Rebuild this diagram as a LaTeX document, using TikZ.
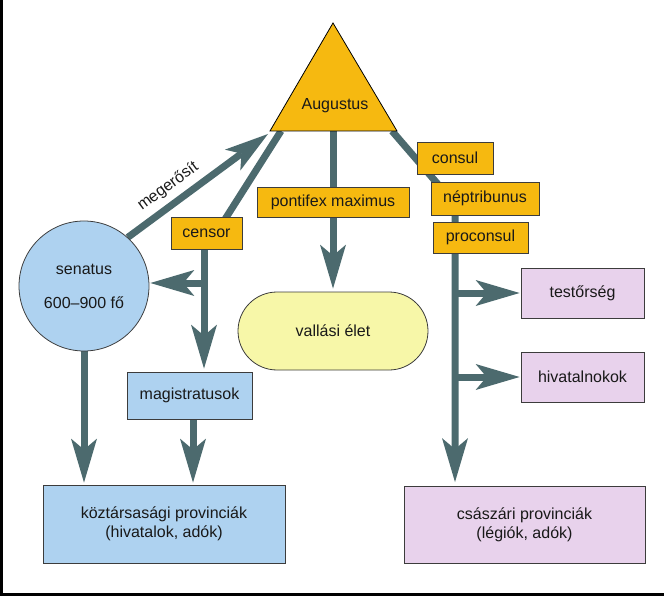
\documentclass[tikz,border=0pt]{standalone}
\usepackage{fontspec}
\setmainfont{Liberation Sans}
\usetikzlibrary{arrows.meta,backgrounds,shapes.misc}
\definecolor{orng}{RGB}{246,185,16}
\definecolor{conn}{RGB}{76,106,110}
\definecolor{lblue}{RGB}{174,210,240}
\definecolor{lpurp}{RGB}{232,210,236}
\definecolor{lyel}{RGB}{247,247,168}
\definecolor{edgec}{RGB}{60,60,60}
\begin{document}
\begin{tikzpicture}[x=1pt,y=-1pt,
  every node/.style={font=\fontsize{16}{19}\selectfont, text=black!90, inner sep=0pt},
  outl/.style={draw=edgec, line width=0.8pt},
  obox/.style={outl, fill=orng},
  bbox/.style={outl, fill=lblue},
  pbox/.style={outl, fill=lpurp},
  conline/.style={draw=conn, line width=7pt},
  conarrow/.style={conline, -{Stealth[length=44pt, width=26pt, inset=11pt, line width=0pt]}},
]
\useasboundingbox (0,0) rectangle (664,596);

% frame
\draw[line width=3pt] (1.4,0) -- (1.4,594) -- (664,594);

% triangle
\coordinate (tA) at (333,23);
\coordinate (tL) at (270,131);
\coordinate (tR) at (397,131);
\filldraw[fill=orng, draw=black, line width=0.8pt] (tA) -- (tL) -- (tR) -- cycle;
\node (aug) at (335,106) {Augustus};

% nodes
\node[obox, minimum width=76pt, minimum height=32pt] (consul) at (455,158) {consul};
\node[obox, minimum width=108pt, minimum height=33pt] (nep) at (485,198.5) {néptribunus};
\node[obox, minimum width=95pt, minimum height=31pt] (procons) at (480.5,237.5) {proconsul};
\node[obox, minimum width=71pt, minimum height=32pt] (censor) at (206.5,233) {censor};
\node[obox, minimum width=152pt, minimum height=30pt] (pontifex) at (333,202) {pontifex maximus};
\node[outl, fill=lyel, rounded rectangle, minimum width=190pt, minimum height=78pt] (vall) at (333,331) {vallási élet};
\node[outl, fill=lblue, circle, minimum size=130pt, align=center] (senatus) at (84,286) {senatus\\[15pt]600–900 fő};
\node[bbox, minimum width=125pt, minimum height=47pt] (magis) at (189.5,395.5) {magistratusok};
\node[bbox, minimum width=242pt, minimum height=78pt, align=center] (koz) at (164,524) {köztársasági provinciák\\(hivatalok, adók)};
\node[pbox, minimum width=241pt, minimum height=77pt, align=center] (csa) at (524.5,525) {császári provinciák\\(légiók, adók)};
\node[pbox, minimum width=123pt, minimum height=50pt] (test) at (582.5,293) {testőrség};
\node[pbox, minimum width=123pt, minimum height=50pt] (hiv) at (582.5,377) {hivatalnokok};

% connectors
\begin{scope}[on background layer]
  \coordinate (mtip) at (268,134);
  \draw[conarrow] (senatus.48) -- node[sloped, above=6pt, pos=0.36] (lab) {megerősít} (mtip);

  \coordinate (tLc) at (281,131);
  \coordinate (ctop) at (222,224);
  \draw[conline] (tLc) -- (ctop);
  \coordinate (cx) at ([xshift=-2.5pt]censor.south);
  \draw[conarrow, shorten >=3pt] (cx) -- (cx |- magis.north);
  \coordinate (cb) at (204,283);
  \draw[conarrow, shorten >=1pt] (cb) -- (cb -| senatus.east);

  \coordinate (tM) at (333,131);
  \draw[conline] (tM) -- (pontifex.north);
  \draw[conarrow, shorten >=3pt] (pontifex.south) -- (vall.north);

  \draw[conarrow, shorten >=2pt] (senatus.south) -- (senatus.south |- koz.north);
  \coordinate (mx) at ([xshift=3.5pt]magis.south);
  \draw[conarrow, shorten >=2pt] (mx) -- (mx |- koz.north);

  \coordinate (tRc) at (392,131);
  \coordinate (bend) at (455,204);
  \draw[conarrow, shorten >=4pt] (tRc) -- (bend) -- (bend |- csa.north);
  \draw[conarrow, shorten >=1pt] (bend |- test.west) -- (test.west);
  \draw[conarrow, shorten >=1pt] (bend |- hiv.west) -- (hiv.west);
\end{scope}
\end{tikzpicture}
\end{document}
